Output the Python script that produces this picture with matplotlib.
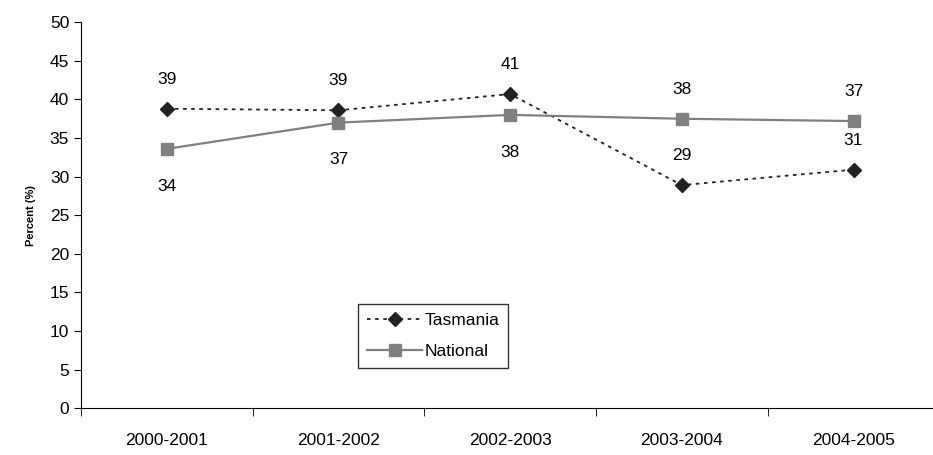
import matplotlib
matplotlib.use("Agg")
import matplotlib.pyplot as plt
import numpy as np

categories = ["2000-2001", "2001-2002", "2002-2003", "2003-2004", "2004-2005"]
tasmania = [38.8, 38.6, 40.7, 28.9, 30.9]
national = [33.6, 37.0, 38.0, 37.5, 37.2]

plt.rcParams['font.family'] = ['Liberation Sans', 'DejaVu Sans']
fig = plt.figure(figsize=(9.33, 4.55), dpi=100)
ax = fig.add_axes([0.0868, 0.103, 0.92, 0.848])
x = np.arange(len(categories))
ax.plot(x, tasmania, color='#222222', linestyle=(0, (2, 2.5)), lw=1.3, marker='D', ms=7, label='Tasmania')
ax.plot(x, national, color='#808080', lw=1.6, marker='s', ms=9, label='National')

for i in range(len(x)):
    t, n = tasmania[i], national[i]
    if t >= n:
        ax.annotate(f"{t:.0f}", (i, t), xytext=(0, 18), textcoords='offset points', ha='center', fontsize=12.5)
        ax.annotate(f"{n:.0f}", (i, n), xytext=(0, -30), textcoords='offset points', ha='center', fontsize=12.5)
    else:
        ax.annotate(f"{n:.0f}", (i, n), xytext=(0, 18), textcoords='offset points', ha='center', fontsize=12.5)
        ax.annotate(f"{t:.0f}", (i, t), xytext=(0, 18), textcoords='offset points', ha='center', fontsize=12.5)

ax.set_xlim(-0.5, 4.5)
ax.set_ylim(0, 50)
ax.set_yticks(range(0, 51, 5))
ax.set_xticks(x)
ax.set_xticklabels(categories, fontsize=12.5)
ax.set_xticks(np.arange(-0.5, 5, 1), minor=True)
ax.tick_params(axis='x', which='major', length=0, pad=18)
ax.tick_params(axis='x', which='minor', length=6, direction='out')
ax.tick_params(axis='y', labelsize=12.5, length=5)
ax.spines['top'].set_visible(False)
ax.spines['right'].set_visible(False)
ax.set_ylabel("Percent (%)", fontsize=8, fontweight='bold', labelpad=10)
leg = ax.legend(loc='lower left', bbox_to_anchor=(0.323, 0.105), fontsize=12.5, frameon=True,
                fancybox=False, edgecolor='black', handlelength=3.2, labelspacing=0.9,
                handletextpad=0.1, borderpad=0.5, borderaxespad=0)
leg.get_frame().set_linewidth(1.0)
fig.savefig("out.png", dpi=100)
